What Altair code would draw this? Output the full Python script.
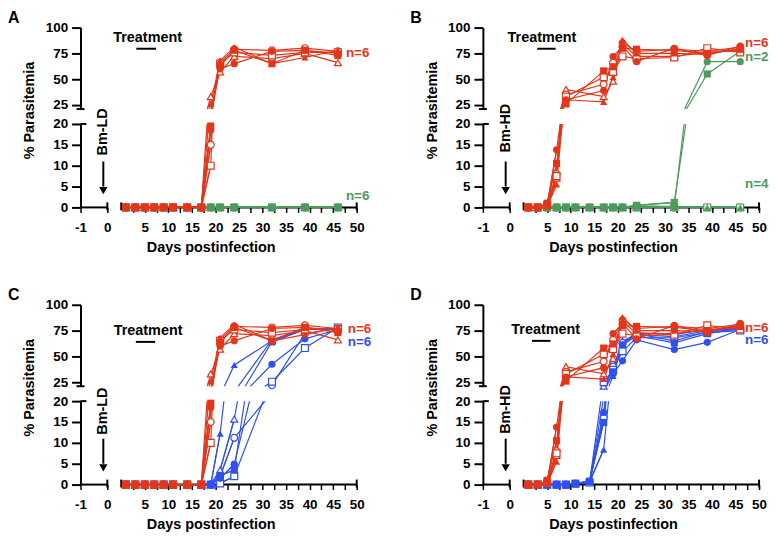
import altair as alt
import pandas as pd

FONT = "Liberation Sans"
RED = "#E2361B"
GREEN = "#4E9A5C"
BLUE = "#2E50EE"
BLACK = "#000000"

# mice: M1 filled triangle, M2 open triangle, M3 filled circle, M4 open circle, M5 filled square, M6 open square
MICE = ["M1", "M2", "M3", "M4", "M5", "M6"]
MOUSE_SHAPES = ["triangle-up", "triangle-up", "circle", "circle", "square", "square"]
OPEN_MICE = ["M2", "M4", "M6"]

DAYS = [1, 3, 5, 7, 9, 11, 14, 17, 19, 21, 24, 32, 39, 46]
DAYS_HD_CTRL = [1, 3, 5, 7, 9, 17, 19, 21, 24, 32, 39, 46]

# Bm-LD, untreated (red; panels A and C)
LD_CTRL = {
    "M1": [0, 0, 0, 0, 0, 0, 0, 0, 26, 68, 81, 65, 71, 78],
    "M2": [0, 0, 0, 0, 0, 0, 0, 0, 33, 57, 72, 70, 75, 66],
    "M3": [0, 0, 0, 0, 0, 0, 0, 0, 18.5, 60, 65, 77, 78, 75],
    "M4": [0, 0, 0, 0, 0, 0, 0, 0, 15, 66, 79, 78, 80, 77],
    "M5": [0, 0, 0, 0, 0, 0, 0, 0, 19.5, 63, 78, 65, 78, 73],
    "M6": [0, 0, 0, 0, 0, 0, 0, 0, 10, 65, 76, 73, 76, 76],
}
# Bm-LD, treated (green; panel A)
LD_GREEN = {
    "M1": [0, 0, 0, 0, 0, 0, 0, 0, 0, 0, 0, 0, 0, 0],
    "M2": [0, 0, 0, 0, 0, 0, 0, 0, 0, 0, 0, 0, 0, 0],
    "M3": [0, 0, 0, 0, 0, 0, 0, 0, 0, 0, 0, 0, 0, 0],
    "M4": [0, 0, 0, 0, 0, 0, 0, 0, 0, 0, 0, 0, 0, 0],
    "M5": [0, 0, 0, 0, 0, 0, 0, 0, 0, 0, 0, 0, 0, 0],
    "M6": [0, 0, 0, 0, 0, 0, 0, 0, 0, 0, 0, 0, 0, 0],
}
# Bm-LD, second treatment (blue; panel C)
LD_BLUE = {
    "M1": [0, 0, 0, 0, 0, 0, 0, 0, 0, 12.2, 41.6, 65, 76, 77],
    "M2": [0, 0, 0, 0, 0, 0, 0, 0, 0, 3.5, 15.7, 66, 77, 76],
    "M3": [0, 0, 0, 0, 0, 0, 0, 0, 0, 1.5, 4.9, 42.3, 67, 76],
    "M4": [0, 0, 0, 0, 0, 0, 0, 0, 0, 2, 11.2, 22, 72, 77],
    "M5": [0, 0, 0, 0, 0, 0, 0, 0, 0, 2.2, 3.5, 64, 76, 77],
    "M6": [0, 0, 0, 0, 0, 0, 0, 0, 0, 0.3, 2, 25.4, 58, 78],
}
# Bm-HD, untreated (red; panels B and D)
HD_CTRL = {
    "M1": [0, 0, 0.3, 5.5, 30, 28, 52, 88, 75, 75, 74, 80],
    "M2": [0, 0, 0.5, 7, 40, 33, 48, 84, 72, 72, 76, 78],
    "M3": [0, 0, 0.5, 13.8, 30, 39, 72, 82, 67, 80, 73, 82],
    "M4": [0, 0, 0.5, 8, 35, 45, 66, 85, 77, 79, 77, 81],
    "M5": [0, 0, 1, 10.5, 26, 58, 62, 80, 79, 78, 75, 79],
    "M6": [0, 0, 0.5, 7.5, 33, 52, 57, 72, 70, 71, 80, 76],
}
# Bm-HD, treated (green; panel B)
HD_GREEN = {
    "M1": [0, 0, 0, 0, 0, 0, 0, 0, 0, 0, 0, 0, 0, 0],
    "M2": [0, 0, 0, 0, 0, 0, 0, 0, 0, 0, 0, 0, 0, 0],
    "M3": [0, 0, 0, 0, 0, 0, 0, 0, 0, 0, 0.3, 0.2, 67, 67],
    "M4": [0, 0, 0, 0, 0, 0, 0, 0, 0, 0, 0, 0, 0, 0],
    "M5": [0, 0, 0, 0, 0, 0, 0, 0, 0, 0, 0.5, 1.2, 55, 77],
    "M6": [0, 0, 0, 0, 0, 0, 0, 0, 0, 0, 0, 0, 0, 0],
}
# Bm-HD, second treatment (blue; panel D)
HD_BLUE = {
    "M1": [0, 0, 0, 0, 0, 0.2, 0.6, 8.4, 31, 62, 72, 65, 74, 76],
    "M2": [0, 0, 0, 0, 0, 0.2, 0.5, 21, 38, 65, 71, 69, 75, 77],
    "M3": [0, 0, 0, 0, 0, 0.3, 0.8, 17.3, 33, 45.6, 66, 56.6, 63.6, 76],
    "M4": [0, 0, 0, 0, 0, 0.2, 0.6, 16, 40, 63, 73, 71, 76, 77],
    "M5": [0, 0, 0, 0, 0, 0.3, 0.8, 14.9, 35, 61, 70, 63, 72, 77],
    "M6": [0, 0, 0, 0, 0, 0.2, 0.5, 25, 37, 55, 68, 68, 73, 75],
}

X_TICKS = [-1, 0, 2.5, 5, 7.5, 10, 12.5, 15, 17.5, 20, 22.5, 25, 27.5, 30,
           32.5, 35, 37.5, 40, 42.5, 45, 47.5, 50]
Y_TICKS_UP = [25, 50, 75, 100]
Y_TICKS_LO = [0, 5, 10, 15, 20]

W, HU, HL = 278, 82, 84
ROW_GAP, COL_GAP, PANEL_GAP = 15, 127, 98
X_DOMAIN = [-1, 0, 0.001, 50]
X_RANGE = [0, 27, 41, W]
LO_MAX = 20.5

XSCALE = alt.Scale(domain=X_DOMAIN, range=X_RANGE, nice=False, zero=False)
YSCALE_UP = alt.Scale(domain=[21, 100], nice=False, zero=False)
YSCALE_LO = alt.Scale(domain=[0, 20], nice=False, zero=False)

X_AXIS = alt.Axis(
    values=X_TICKS,
    labelExpr="datum.value == -1 ? '-1' : (datum.value % 5 == 0 ? format(datum.value, 'd') : '')",
    domain=False, tickSize=5, tickWidth=1.5, labelPadding=8,
    labelFlush=False, labelOverlap=False,
    title="Days postinfection", titleX=131, titleY=40,
    titleAlign="center", titleBaseline="middle",
)
Y_AXIS_UP = alt.Axis(values=Y_TICKS_UP, tickSize=9, labelPadding=4, title=None,
                     labelFlush=False, labelOverlap=False)
Y_AXIS_LO = alt.Axis(values=Y_TICKS_LO, tickSize=9, labelPadding=4,
                     title="% Parasitemia", titleAngle=270, titleX=-44, titleY=-14,
                     titleAlign="center", titleBaseline="bottom",
                     labelFlush=False, labelOverlap=False)

SHAPE = alt.Shape("mouse:N", scale=alt.Scale(domain=MICE, range=MOUSE_SHAPES), legend=None)


def xy(part):
    if part == "up":
        return dict(x=alt.X("x:Q", scale=XSCALE, axis=None),
                    y=alt.Y("y:Q", scale=YSCALE_UP, axis=Y_AXIS_UP))
    return dict(x=alt.X("x:Q", scale=XSCALE, axis=X_AXIS),
                y=alt.Y("y:Q", scale=YSCALE_LO, axis=Y_AXIS_LO))


def series_frame(days, values):
    rows = []
    for m in MICE:
        run, prev = 0, False
        for d, v in zip(days, values[m]):
            inside = v <= LO_MAX
            if inside and not prev:
                run += 1
            prev = inside
            rows.append({"x": d, "y": v, "mouse": m, "open": m in OPEN_MICE,
                         "lo": inside, "seg": f"{m}-{run}" if inside else "none"})
    return pd.DataFrame(rows)


def group_layers(df, color, part):
    enc = xy(part)
    thr = f"datum.y <= {LO_MAX}" if part == "lo" else f"datum.y > {LO_MAX}"
    base = alt.Chart(df)
    layers = [base.mark_line(clip=True, color=color, strokeWidth=1.2).encode(detail="mouse:N", **enc)]
    if part == "lo":
        layers.append(base.transform_filter("datum.lo").mark_line(color=color, strokeWidth=1.2)
                      .encode(detail="seg:N", **enc))
    layers.append(base.transform_filter(f"datum.open && {thr}")
                  .mark_point(filled=True, fill="white", stroke=color, strokeWidth=1.2, size=48, opacity=1)
                  .encode(shape=SHAPE, **enc))
    layers.append(base.transform_filter(f"!datum.open && {thr}")
                  .mark_point(filled=True, fill=color, strokeWidth=0, size=52, opacity=1)
                  .encode(shape=SHAPE, **enc))
    return layers


def text_layer(rows, part, size=14.5, **kw):
    df = pd.DataFrame(rows, columns=["x", "y", "t", "c"])
    return alt.Chart(df).mark_text(font=FONT, fontWeight="bold", fontSize=size, **kw).encode(
        text="t:N", color=alt.Color("c:N", scale=None), **xy(part))


def panel(letter, inoc, inoc_y, groups, labels, treat):
    tx, ty, bx1, bx2, by = treat
    # upper segment
    up_layers = []
    for color, days, values in groups:
        up_layers += group_layers(series_frame(days, values), color, "up")
    up_layers.append(text_layer([(tx, ty, "Treatment", BLACK)], "up", align="center", baseline="middle"))
    up_layers.append(alt.Chart(pd.DataFrame({"x": [bx1], "x2": [bx2], "y": [by]}))
                     .mark_rule(color=BLACK, strokeWidth=2).encode(x2="x2:Q", **xy("up")))
    up_layers.append(alt.Chart(pd.DataFrame({"x": [-1.15], "x2": [-0.85], "y": [21]}))
                     .mark_rule(color=BLACK, strokeWidth=2).encode(x2="x2:Q", **xy("up")))
    up_lab = [l for l in labels if l[1] > LO_MAX]
    if up_lab:
        up_layers.append(text_layer(up_lab, "up", size=13.5, align="left", baseline="middle"))
    upper = alt.layer(*up_layers).properties(
        width=W, height=HU,
        title=alt.Title(letter, anchor="start", frame="group", dx=-73, offset=-5, fontSize=16,
                        font=FONT, fontWeight="bold", color=BLACK))

    # lower segment
    lo_layers = [
        alt.Chart(pd.DataFrame({"x": [-1, 0.001], "x2": [0, 50], "y": [0, 0]}))
        .mark_rule(color=BLACK, strokeWidth=2).encode(x2="x2:Q", **xy("lo")),
        alt.Chart(pd.DataFrame({"x": [0, 0.001, 50], "y": [-0.7, -0.7, -0.7], "y2": [1.2, 1.2, 1.2]}))
        .mark_rule(color=BLACK, strokeWidth=2).encode(y2="y2:Q", **xy("lo")),
        alt.Chart(pd.DataFrame({"x": [-1], "x2": [-0.78], "y": [20]}))
        .mark_rule(color=BLACK, strokeWidth=2).encode(x2="x2:Q", **xy("lo")),
        alt.Chart(pd.DataFrame({"x": [-0.15], "y": [11], "y2": [5]}))
        .mark_rule(color=BLACK, strokeWidth=2).encode(y2="y2:Q", **xy("lo")),
        alt.Chart(pd.DataFrame({"x": [-0.15], "y": [4.0]}))
        .mark_point(shape="triangle-down", filled=True, color=BLACK, size=70, opacity=1).encode(**xy("lo")),
        text_layer([(-0.15, inoc_y, inoc, BLACK)], "lo", align="center", baseline="middle", angle=270),
    ]
    for color, days, values in groups:
        lo_layers += group_layers(series_frame(days, values), color, "lo")
    lo_lab = [l for l in labels if l[1] <= LO_MAX]
    if lo_lab:
        lo_layers.append(text_layer(lo_lab, "lo", size=13.5, align="left", baseline="middle"))
    lower = alt.layer(*lo_layers).properties(width=W, height=HL)
    return upper, lower


def spacer():
    return alt.Chart(pd.DataFrame({"x": [0]})).mark_point(opacity=0).encode(
        x=alt.X("x:Q", axis=None), y=alt.Y("x:Q", axis=None)
    ).properties(width=W, height=PANEL_GAP - 2 * ROW_GAP)


aU, aL = panel("A", "Bm-LD", 18.1, [(GREEN, DAYS, LD_GREEN), (RED, DAYS, LD_CTRL)],
               [(47.7, 75.3, "n=6", RED), (47.7, 2.8, "n=6", GREEN)],
               (5.6, 90, 3.2, 7.4, 79.5))
bU, bL = panel("B", "Bm-HD", 19.0, [(GREEN, DAYS, HD_GREEN), (RED, DAYS_HD_CTRL, HD_CTRL)],
               [(47.0, 85.5, "n=6", RED), (47.0, 71, "n=2", GREEN), (47.0, 5.5, "n=4", GREEN)],
               (3.9, 90, 2.9, 6.8, 79.5))
cU, cL = panel("C", "Bm-LD", 17.6, [(BLUE, DAYS, LD_BLUE), (RED, DAYS, LD_CTRL)],
               [(48.1, 76.8, "n=6", RED), (48.1, 64.2, "n=6", BLUE)],
               (5.7, 75, 3.1, 7.2, 64))
dU, dL = panel("D", "Bm-HD", 18.0, [(BLUE, DAYS, HD_BLUE), (RED, DAYS_HD_CTRL, HD_CTRL)],
               [(47.0, 77.5, "n=6", RED), (47.0, 65.5, "n=6", BLUE)],
               (4.7, 75.6, 1.8, 5.7, 65))

chart = (
    alt.concat(aU, bU, aL, bL, spacer(), spacer(), cU, dU, cL, dL,
               columns=2, spacing={"row": ROW_GAP, "column": COL_GAP}, bounds="flush")
    .properties(padding=0)
    .configure_view(stroke=None)
    .configure_axis(
        labelFont=FONT, labelFontSize=13.5, labelFontWeight="bold", labelColor=BLACK,
        titleFont=FONT, titleFontSize=14.5, titleFontWeight="bold", titleColor=BLACK,
        domainColor=BLACK, domainWidth=2, tickColor=BLACK, tickWidth=2, grid=False,
    )
)

chart.save("out.html", embed_options={"renderer": "svg", "actions": False})
